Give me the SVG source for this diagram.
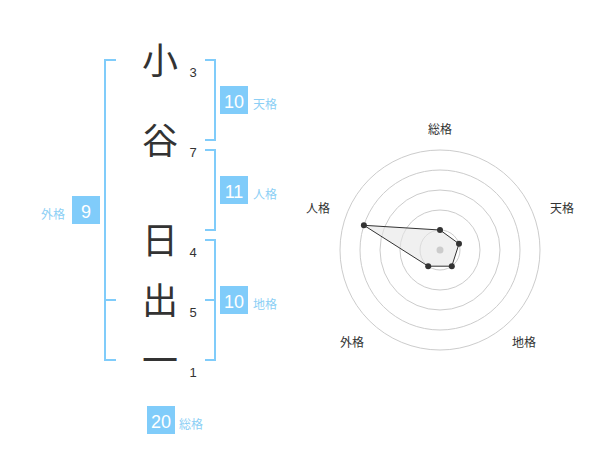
<svg xmlns="http://www.w3.org/2000/svg" width="600" height="470" viewBox="0 0 600 470">
<style>
.ch{font-family:"Noto Sans CJK JP","Noto Sans",sans-serif;font-size:36px;fill:#333;text-anchor:middle}
.num{font-family:"Liberation Sans",Arial,sans-serif;font-size:13px;fill:#333;text-anchor:middle}
.box{fill:#80ccfa}
.bn{font-family:"Liberation Sans",Arial,sans-serif;font-size:18px;fill:#fff;text-anchor:middle}
.lb{font-family:"Noto Sans CJK JP",sans-serif;font-size:12px;fill:#8ccff5}
.br{fill:none;stroke:#80ccfa;stroke-width:2}
.ring{fill:none;stroke:#cccccc;stroke-width:1}
.rl{font-family:"Noto Sans CJK JP",sans-serif;font-size:12px;fill:#333;text-anchor:middle}
.dot{fill:#333}
</style>
<g id="chars">
<text class="ch" x="160" y="74">小</text>
<text class="ch" x="160" y="154">谷</text>
<text class="ch" x="160" y="254">日</text>
<text class="ch" x="160" y="314">出</text>
<text class="ch" x="160" y="374">一</text>
</g>
<g id="strokes">
<text class="num" x="193" y="77">3</text>
<text class="num" x="193" y="157">7</text>
<text class="num" x="193" y="257">4</text>
<text class="num" x="193" y="317">5</text>
<text class="num" x="193" y="377">1</text>
</g>
<g id="connectors">
<path class="br" d="M205,60 H215 V140 H205"/>
<path class="br" d="M205,150 H215 V230 H205"/>
<path class="br" d="M205,240 H215 V360 H205 M205,300 H215"/>
<path class="br" d="M116,60 H105 V360 H116 M105,300 H116"/>
</g>
<g id="tenkaku">
<rect class="box" x="220" y="86" width="28" height="28"/>
<text class="bn" x="234" y="108">10</text>
<text class="lb" x="253" y="108.5">天格</text>
</g>
<g id="jinkaku">
<rect class="box" x="220" y="176" width="28" height="28"/>
<text class="bn" x="234" y="198">11</text>
<text class="lb" x="253" y="198.5">人格</text>
</g>
<g id="chikaku">
<rect class="box" x="220" y="286" width="28" height="28"/>
<text class="bn" x="234" y="308">10</text>
<text class="lb" x="253" y="308.5">地格</text>
</g>
<g id="gaikaku">
<rect class="box" x="72" y="196" width="28" height="28"/>
<text class="bn" x="86" y="218">9</text>
<text class="lb" x="41" y="218.5">外格</text>
</g>
<g id="soukaku">
<rect class="box" x="147" y="406" width="28" height="28"/>
<text class="bn" x="161" y="428">20</text>
<text class="lb" x="179" y="428.5">総格</text>
</g>
<g id="radar">
<circle class="ring" cx="440" cy="250" r="20"/>
<circle class="ring" cx="440" cy="250" r="40"/>
<circle class="ring" cx="440" cy="250" r="60"/>
<circle class="ring" cx="440" cy="250" r="80"/>
<circle class="ring" cx="440" cy="250" r="100"/>
<polygon points="440,230 459,243.8 451.8,266.2 428.2,266.2 363.9,225.3" fill="#e6e6e6" fill-opacity="0.6" stroke="#333" stroke-width="1"/>
<circle cx="440" cy="250" r="3.5" fill="#cccccc"/>
<circle class="dot" cx="440" cy="230" r="3"/>
<circle class="dot" cx="459" cy="243.8" r="3"/>
<circle class="dot" cx="451.8" cy="266.2" r="3"/>
<circle class="dot" cx="428.2" cy="266.2" r="3"/>
<circle class="dot" cx="363.9" cy="225.3" r="3"/>
<text class="rl" x="440" y="134">総格</text>
<text class="rl" x="562" y="212.5">天格</text>
<text class="rl" x="318" y="212.5">人格</text>
<text class="rl" x="352" y="346.5">外格</text>
<text class="rl" x="524" y="346.5">地格</text>
</g>
</svg>
